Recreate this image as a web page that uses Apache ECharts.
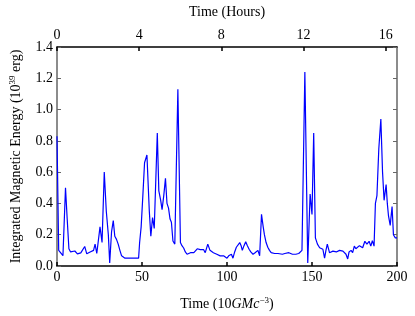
<!DOCTYPE html>
<html>
<head>
<meta charset="utf-8">
<script src="https://cdn.jsdelivr.net/npm/echarts@6/dist/echarts.min.js"></script>
<style>html,body{margin:0;padding:0;background:#fff;}#c{width:415px;height:316px;}</style>
</head>
<body>
<div id="c"></div>
<script>
const times = [0,1,2,3.5,5,6,7,8,9,10.5,12,13,14,15,16.3,17.5,18.5,19.5,20.5,21.5,22.4,23.4,24.3,25.3,26.5,27.8,29,30.2,31,32.1,33.1,34,35,36,37,38,39,40,41,42,43,44,45,46,47,48,48.6,49.5,50.5,51.5,52.9,54.3,55.2,56.2,57.2,57.9,59,59.9,61,61.8,62.8,63.8,64.7,65.6,66.5,67.3,68.2,69.3,70.3,71.1,72.6,73.5,74.5,75.5,76.5,77.5,78.5,79.5,80.5,81.5,82.5,83.3,84.3,85.2,86.2,87.2,88.7,90,91,92,93,94,95,96,97,98,99,100,101,102.6,103.5,104.5,105.5,106.5,107.5,108.3,109,110,111,112,113,114,115.3,116.5,117.5,118.2,119.2,120.3,121.3,122,123,124,125,126,127,128,129,130,131,132.6,134,135,136.4,137.5,138.5,139.3,140.5,141.5,142.2,143.3,144.1,145.8,147.5,148.9,150,151,152,153.2,154.5,155.5,156.4,157.4,158.2,159,160.3,161.3,162.3,163.3,164.3,165.2,166.2,167.2,168.2,169.1,170,171,171.8,173,173.9,174.9,175.8,176.9,177.9,178.8,179.8,181.1,182.3,183.6,184.6,185.5,186.5,187.3,188.2,189.3,190.5,191.5,192.4,193.6,194.3,195,196,197.1,197.9,199,200];
const energy = [0.83,0.1,0.09,0.066,0.5,0.3,0.11,0.09,0.078,0.096,0.078,0.08,0.084,0.075,0.125,0.078,0.085,0.09,0.084,0.1,0.14,0.08,0.07,0.25,0.15,0.6,0.35,0.2,0.02,0.22,0.29,0.19,0.17,0.14,0.1,0.065,0.055,0.05,0.045,0.05,0.04,0.05,0.045,0.05,0.04,0.05,0.15,0.25,0.45,0.66,0.71,0.35,0.19,0.31,0.24,0.25,0.85,0.48,0.42,0.36,0.45,0.56,0.4,0.37,0.3,0.28,0.16,0.14,0.13,1.13,0.15,0.13,0.115,0.09,0.075,0.08,0.085,0.09,0.085,0.095,0.11,0.12,0.105,0.1,0.105,0.085,0.14,0.1,0.095,0.085,0.08,0.075,0.07,0.065,0.07,0.065,0.06,0.05,0.065,0.075,0.05,0.09,0.12,0.13,0.15,0.13,0.1,0.13,0.155,0.13,0.107,0.09,0.075,0.085,0.095,0.1,0.065,0.33,0.25,0.2,0.15,0.12,0.1,0.085,0.09,0.08,0.075,0.08,0.085,0.075,0.08,0.09,0.085,0.08,0.075,0.07,0.075,0.065,0.08,0.09,0.1,1.24,0.02,0.46,0.33,0.85,0.18,0.14,0.117,0.12,0.107,0.05,0.1,0.14,0.085,0.09,0.095,0.085,0.09,0.095,0.1,0.09,0.095,0.085,0.075,0.045,0.09,0.1,0.085,0.127,0.11,0.107,0.13,0.127,0.117,0.158,0.14,0.158,0.127,0.162,0.127,0.4,0.45,0.75,0.94,0.6,0.42,0.52,0.4,0.32,0.26,0.38,0.2,0.18,0.18];
const bottomTicks = [0,50,100,150,200];
const topTicks = [0,4,8,12,16];
const yTicks = [0.0,0.2,0.4,0.6,0.8,1.0,1.2,1.4];

const FONT = 'Liberation Serif';
const base = {fontFamily: FONT, fontSize: 14, color: '#000'};
const chart = echarts.init(document.getElementById('c'));
chart.setOption({
  animation: false,
  backgroundColor: '#fff',
  grid: {left: 51, right: 18, top: 41, bottom: 47, containLabel: false},
  xAxis: [
    {
      type: 'value', position: 'bottom', min: 0, max: 200, interval: 50,
      axisLine: {onZero: false, lineStyle: {color: '#000', width: 1.5}},
      axisTick: {inside: true, length: 4, lineStyle: {color: '#000', width: 1.5}},
      splitLine: {show: false},
      axisLabel: Object.assign({margin: 4, formatter: v => bottomTicks.includes(v) ? String(v) : ''}, base),
      name: '{a|Time (10}{i|GMc}{s|−3}{a|)}',
      nameLocation: 'middle', nameGap: 30,
      nameTextStyle: {
        rich: {
          a: {fontFamily: FONT, fontSize: 14, color: '#000', lineHeight: 16},
          i: {fontFamily: FONT, fontSize: 14, fontStyle: 'italic', color: '#000', lineHeight: 16},
          s: {fontFamily: FONT, fontSize: 9, color: '#000', verticalAlign: 'top', lineHeight: 16, padding: [0,0,6,0]}
        }
      }
    },
    {
      type: 'value', position: 'top', min: 0, max: 16.55, interval: 4,
      axisLine: {onZero: false, lineStyle: {color: '#000', width: 1.5}},
      axisTick: {inside: true, length: 4, lineStyle: {color: '#000', width: 1.5}},
      splitLine: {show: false},
      axisLabel: Object.assign({margin: 5, showMaxLabel: false, formatter: v => topTicks.includes(v) ? String(v) : ''}, base),
      name: 'Time (Hours)', nameLocation: 'middle', nameGap: 28,
      nameTextStyle: base
    }
  ],
  yAxis: [
    {
      type: 'value', position: 'left', min: 0, max: 1.4, interval: 0.2,
      axisLine: {onZero: false, lineStyle: {color: '#666', width: 1.5}},
      axisTick: {inside: true, length: 4, lineStyle: {color: '#666', width: 1}},
      splitLine: {show: false},
      axisLabel: Object.assign({margin: 4, formatter: v => {
        const m = yTicks.find(t => Math.abs(t - v) < 1e-6);
        return m === undefined ? '' : m.toFixed(1);
      }}, base),
      name: '{a|Integrated Magnetic Energy (10}{s|39}{a| erg)}',
      nameLocation: 'middle', nameGap: 33,
      nameTextStyle: {
        rich: {
          a: {fontFamily: FONT, fontSize: 14, color: '#000', lineHeight: 16},
          s: {fontFamily: FONT, fontSize: 9, color: '#000', verticalAlign: 'top', lineHeight: 16, padding: [0,0,6,0]}
        }
      }
    },
    {
      type: 'value', position: 'right', min: 0, max: 1.4, interval: 0.2,
      axisLine: {show: true, onZero: false, lineStyle: {color: '#666', width: 1.5}},
      axisTick: {show: true, inside: true, length: 4, lineStyle: {color: '#666', width: 1}},
      axisLabel: {show: false},
      splitLine: {show: false}
    }
  ],
  series: [{
    type: 'line',
    xAxisIndex: 0, yAxisIndex: 0,
    data: times.map((t, i) => [t, energy[i]]),
    showSymbol: false, symbol: 'none',
    lineStyle: {color: '#0000ff', width: 1.2},
    clip: true
  }]
});
</script>
</body>
</html>
